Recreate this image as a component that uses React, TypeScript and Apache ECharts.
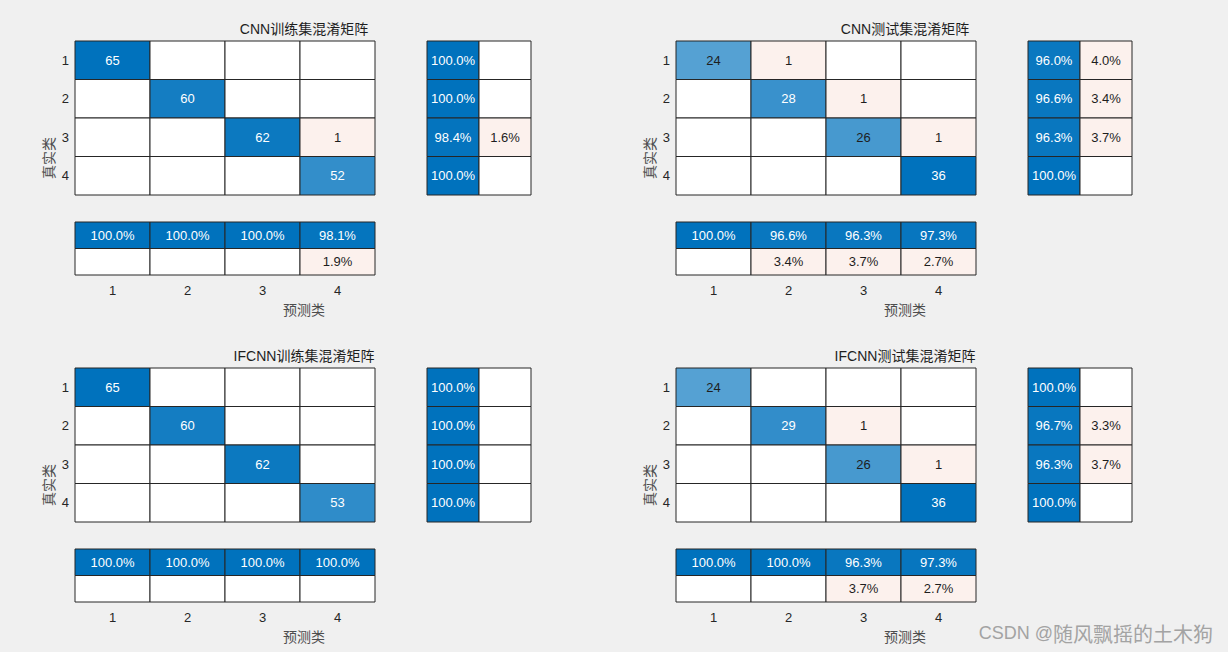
import React, { useEffect, useRef } from 'react';
import * as echarts from 'echarts';

const FONT = "'Liberation Sans', Arial, 'Noto Sans CJK SC', sans-serif";
const CJK = "'Noto Sans CJK SC', 'Liberation Sans', sans-serif";

const classLabels = ['1', '2', '3', '4'];
const summaryLabels = ['正确', '错误'];
const panelTitles = ['CNN训练集混淆矩阵', 'CNN测试集混淆矩阵', 'IFCNN训练集混淆矩阵', 'IFCNN测试集混淆矩阵'];
const yAxisName = '真实类';
const xAxisName = '预测类';
const watermarkLatin = 'CSDN @';
const watermarkCjk = '随风飘摇的土木狗';

// confusion matrices (rows = true class, cols = predicted class)
const cnnTrainMatrix = [
  [65, 0, 0, 0],
  [0, 60, 0, 0],
  [0, 0, 62, 1],
  [0, 0, 0, 52],
];
const cnnTestMatrix = [
  [24, 1, 0, 0],
  [0, 28, 1, 0],
  [0, 0, 26, 1],
  [0, 0, 0, 36],
];
const ifcnnTrainMatrix = [
  [65, 0, 0, 0],
  [0, 60, 0, 0],
  [0, 0, 62, 0],
  [0, 0, 0, 53],
];
const ifcnnTestMatrix = [
  [24, 0, 0, 0],
  [0, 29, 1, 0],
  [0, 0, 26, 1],
  [0, 0, 0, 36],
];

// row summaries (%)
const cnnTrainRowCorrect = [100.0, 100.0, 98.4, 100.0];
const cnnTrainRowWrong = [0, 0, 1.6, 0];
const cnnTestRowCorrect = [96.0, 96.6, 96.3, 100.0];
const cnnTestRowWrong = [4.0, 3.4, 3.7, 0];
const ifcnnTrainRowCorrect = [100.0, 100.0, 100.0, 100.0];
const ifcnnTrainRowWrong = [0, 0, 0, 0];
const ifcnnTestRowCorrect = [100.0, 96.7, 96.3, 100.0];
const ifcnnTestRowWrong = [0, 3.3, 3.7, 0];

// column summaries (%)
const cnnTrainColCorrect = [100.0, 100.0, 100.0, 98.1];
const cnnTrainColWrong = [0, 0, 0, 1.9];
const cnnTestColCorrect = [100.0, 96.6, 96.3, 97.3];
const cnnTestColWrong = [0, 3.4, 3.7, 2.7];
const ifcnnTrainColCorrect = [100.0, 100.0, 100.0, 100.0];
const ifcnnTrainColWrong = [0, 0, 0, 0];
const ifcnnTestColCorrect = [100.0, 100.0, 96.3, 97.3];
const ifcnnTestColWrong = [0, 0, 3.7, 2.7];

const panelData = [
  { m: cnnTrainMatrix, rc: cnnTrainRowCorrect, rw: cnnTrainRowWrong, cc: cnnTrainColCorrect, cw: cnnTrainColWrong },
  { m: cnnTestMatrix, rc: cnnTestRowCorrect, rw: cnnTestRowWrong, cc: cnnTestColCorrect, cw: cnnTestColWrong },
  { m: ifcnnTrainMatrix, rc: ifcnnTrainRowCorrect, rw: ifcnnTrainRowWrong, cc: ifcnnTrainColCorrect, cw: ifcnnTrainColWrong },
  { m: ifcnnTestMatrix, rc: ifcnnTestRowCorrect, rw: ifcnnTestRowWrong, cc: ifcnnTestColCorrect, cw: ifcnnTestColWrong },
];

const panelOffsets = [
  [0, 0],
  [601, 0],
  [0, 327],
  [601, 327],
];

const BLUE = [0, 114, 189];
const RED = [217, 83, 25];
const mix = (t: number, c: number[]) =>
  `rgb(${Math.round(255 + (c[0] - 255) * t)},${Math.round(255 + (c[1] - 255) * t)},${Math.round(255 + (c[2] - 255) * t)})`;
const PINK = mix(0.08, RED);
const DARK_TEXT = '#1e1e1e';

type Cell = { value: number[]; text: string; fill: string; textColor: string };

function goodCell(x: number, y: number, t: number, text: string): Cell {
  return { value: [x, y, t], text, fill: mix(t, BLUE), textColor: t >= 0.75 ? '#ffffff' : DARK_TEXT };
}
function badCell(x: number, y: number, v: number, text: string): Cell {
  return { value: [x, y, v], text: v > 0 ? text : '', fill: v > 0 ? PINK : '#ffffff', textColor: DARK_TEXT };
}

function cellSeries(cells: Cell[], axisIndex: number) {
  return {
    type: 'custom',
    xAxisIndex: axisIndex,
    yAxisIndex: axisIndex,
    data: cells.map((c) => c.value),
    silent: true,
    renderItem: (params: any, api: any) => {
      const cell = cells[params.dataIndex];
      const c = api.coord([api.value(0), api.value(1)]);
      const s = api.size([1, 1]);
      return {
        type: 'rect',
        shape: { x: c[0] - s[0] / 2, y: c[1] - s[1] / 2, width: s[0], height: s[1] },
        style: { fill: cell.fill, stroke: '#262626', lineWidth: 1 },
        textContent: {
          style: { text: cell.text, fill: cell.textColor, fontSize: 13, fontFamily: FONT },
        },
        textConfig: { position: 'inside' },
      };
    },
  };
}

function buildOption() {
  const grid: any[] = [];
  const xAxis: any[] = [];
  const yAxis: any[] = [];
  const series: any[] = [];
  const graphic: any[] = [];

  panelData.forEach((pd, k) => {
    const [ox, oy] = panelOffsets[k];
    const gi = grid.length;
    grid.push({ left: ox + 75, top: oy + 41, width: 300, height: 154 });
    grid.push({ left: ox + 427, top: oy + 41, width: 104, height: 154 });
    grid.push({ left: ox + 75, top: oy + 222, width: 300, height: 53 });

    // main matrix axes
    xAxis.push({ gridIndex: gi, type: 'category', data: classLabels, show: false });
    yAxis.push({
      gridIndex: gi, type: 'category', data: classLabels, inverse: true,
      axisLine: { show: false }, axisTick: { show: false }, splitLine: { show: false },
      axisLabel: { color: '#262626', fontSize: 13, fontFamily: FONT, margin: 6 },
    });
    // row summary axes
    xAxis.push({ gridIndex: gi + 1, type: 'category', data: summaryLabels, show: false });
    yAxis.push({ gridIndex: gi + 1, type: 'category', data: classLabels, inverse: true, show: false });
    // column summary axes
    xAxis.push({
      gridIndex: gi + 2, type: 'category', data: classLabels, position: 'bottom',
      axisLine: { show: false }, axisTick: { show: false }, splitLine: { show: false },
      axisLabel: { color: '#262626', fontSize: 13, fontFamily: FONT, margin: 9 },
    });
    yAxis.push({ gridIndex: gi + 2, type: 'category', data: summaryLabels, inverse: true, show: false });

    const maxVal = Math.max(...pd.m.flat());
    const mainCells: Cell[] = [];
    pd.m.forEach((row, i) => {
      row.forEach((v, j) => {
        if (i === j) mainCells.push(goodCell(j, i, v / maxVal, String(v)));
        else mainCells.push(badCell(j, i, v, String(v)));
      });
    });
    series.push(cellSeries(mainCells, gi));

    const rowCells: Cell[] = [];
    classLabels.forEach((_, i) => {
      rowCells.push(goodCell(0, i, pd.rc[i] / 100, pd.rc[i].toFixed(1) + '%'));
      rowCells.push(badCell(1, i, pd.rw[i], pd.rw[i].toFixed(1) + '%'));
    });
    series.push(cellSeries(rowCells, gi + 1));

    const colCells: Cell[] = [];
    classLabels.forEach((_, j) => {
      colCells.push(goodCell(j, 0, pd.cc[j] / 100, pd.cc[j].toFixed(1) + '%'));
      colCells.push(badCell(j, 1, pd.cw[j], pd.cw[j].toFixed(1) + '%'));
    });
    series.push(cellSeries(colCells, gi + 2));

    graphic.push({
      type: 'text', x: ox + 304, y: oy + 29,
      style: {
        text: panelTitles[k], textAlign: 'center', textVerticalAlign: 'middle',
        fontSize: 14, fontFamily: FONT, fill: '#1e1e1e',
      },
    });
    graphic.push({
      type: 'text', x: ox + 304, y: oy + 309,
      style: {
        text: xAxisName, textAlign: 'center', textVerticalAlign: 'middle',
        fontSize: 14, fontFamily: CJK, fill: '#4d4d4d',
      },
    });
    graphic.push({
      type: 'text', x: ox + 48, y: oy + 158, rotation: Math.PI / 2,
      style: {
        text: yAxisName, textAlign: 'center', textVerticalAlign: 'middle',
        fontSize: 14, fontFamily: CJK, fill: '#4d4d4d',
      },
    });
  });

  graphic.push({
    type: 'text', x: 1053, y: 633,
    style: {
      text: watermarkLatin, textAlign: 'right', textVerticalAlign: 'middle',
      fontSize: 18, fontFamily: FONT, fill: '#a3a3a3',
      textShadowColor: '#ffffff', textShadowOffsetX: 1, textShadowOffsetY: 1, textShadowBlur: 0,
    },
  });
  graphic.push({
    type: 'text', x: 1213, y: 633,
    style: {
      text: watermarkCjk, textAlign: 'right', textVerticalAlign: 'middle',
      fontSize: 20, fontFamily: CJK, fill: '#a3a3a3',
      textShadowColor: '#ffffff', textShadowOffsetX: 1, textShadowOffsetY: 1, textShadowBlur: 0,
    },
  });

  return {
    animation: false,
    backgroundColor: '#f0f0f0',
    textStyle: { fontFamily: FONT },
    grid,
    xAxis,
    yAxis,
    series,
    graphic,
  };
}

export default function App() {
  const ref = useRef<HTMLDivElement>(null);
  useEffect(() => {
    if (!ref.current) return;
    const chart = echarts.init(ref.current, undefined, { renderer: 'svg' });
    chart.setOption(buildOption() as any);
    return () => chart.dispose();
  }, []);
  return (
    <div
      ref={ref}
      style={{ position: 'absolute', left: 0, top: 0, width: 1228, height: 652, background: '#f0f0f0' }}
    />
  );
}
